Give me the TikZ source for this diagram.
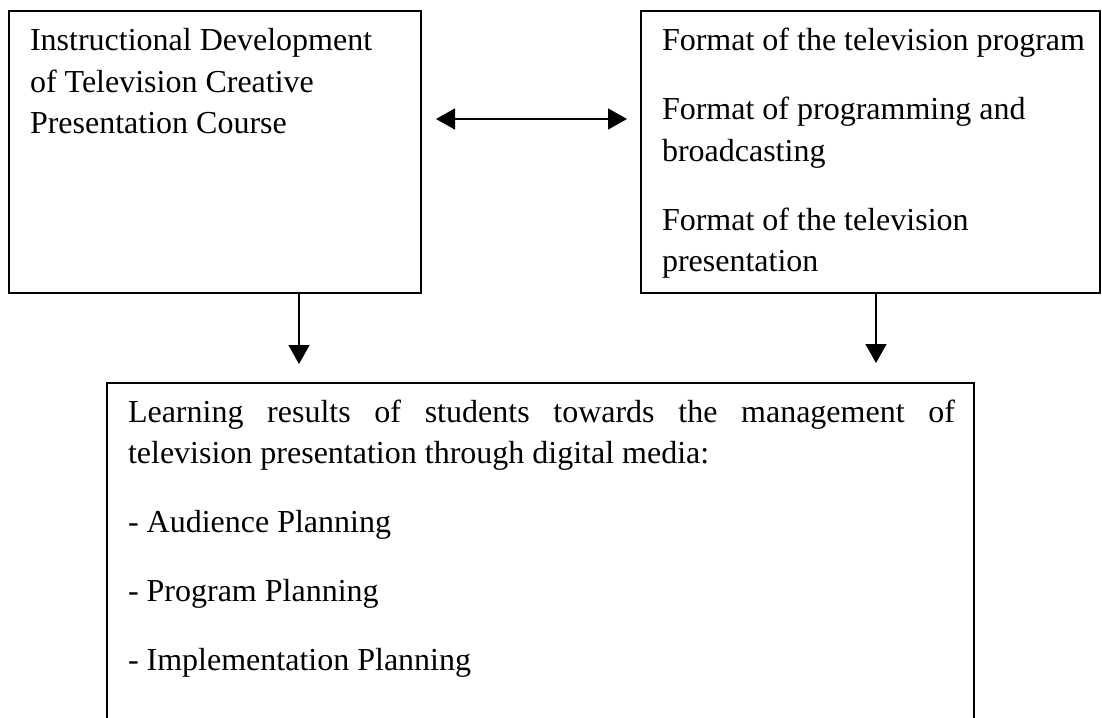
\documentclass[tikz,border=0pt]{standalone}
\usepackage{fontspec}
\setmainfont{Liberation Serif}
\usetikzlibrary{arrows.meta}
\tikzset{
  boxst/.style={draw=black, line width=1.3pt, rectangle, inner sep=0pt, outer sep=0pt, anchor=north west},
  txt/.style={inner sep=0pt, outer sep=0pt, anchor=base west},
  arr/.style={line width=1.5pt, -{Triangle[length=19pt,width=21pt]}},
  arrtwo/.style={line width=1.5pt, {Triangle[length=19pt,width=21pt]}-{Triangle[length=19pt,width=21pt]}}
}
\newcommand{\boxfont}{\fontsize{32pt}{41.5pt}\selectfont\setlength{\parskip}{27.5pt}\setlength{\parindent}{0pt}}
\begin{document}
\begin{tikzpicture}[x=1pt,y=-1pt]
\useasboundingbox (0,0) rectangle (1102,717);
\clip (0,0) rectangle (1102,717);
% boxes
\node[boxst, minimum width=412pt, minimum height=282pt] (lbox) at (9,11) {};
\node[boxst, minimum width=459pt, minimum height=282pt] (rbox) at (641,11) {};
\node[boxst, minimum width=867pt, minimum height=380pt] (bbox) at (107,383) {};
% texts
\node[txt] (ltext) at (30,51) {\parbox[t]{385pt}{\boxfont\raggedright
Instructional Development\newline of Television Creative\newline Presentation Course}};
\node[txt] (rtext) at (662,51) {\parbox[t]{436pt}{\boxfont\raggedright
Format of the television program\par
Format of programming and\newline broadcasting\par
Format of the television\newline presentation}};
\node[txt] (btext) at (128,422) {\parbox[t]{827pt}{\boxfont\hyphenpenalty=10000
Learning results of students towards the management of\linebreak television presentation through digital media:\par
{\raggedright - Audience Planning\par
- Program Planning\par
- Implementation Planning\par}}};
% connectors
\coordinate (xl) at (299,0);
\coordinate (xr) at (876,0);
\coordinate (ya) at (0,119);
\draw[arrtwo, shorten <=15pt, shorten >=14pt] (lbox.east |- ya) -- (rbox.west |- ya);
\draw[arr, shorten >=19pt] (lbox.south -| xl) -- (bbox.north -| xl);
\draw[arr, shorten >=20pt] (rbox.south -| xr) -- (bbox.north -| xr);
\end{tikzpicture}
\end{document}
